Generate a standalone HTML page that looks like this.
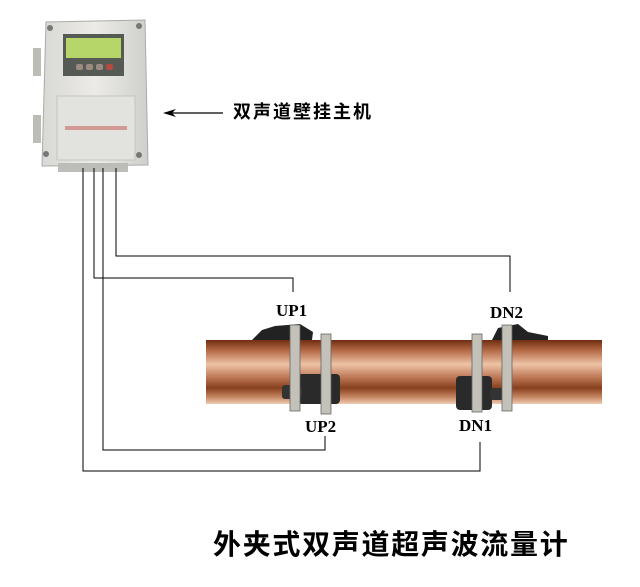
<!DOCTYPE html>
<html><head><meta charset="utf-8"><style>
html,body{margin:0;padding:0;background:#fff}
svg{display:block}
text{font-family:"Liberation Serif","Noto Serif CJK SC",serif}
.cj{font-family:"Liberation Sans","Noto Sans CJK SC",sans-serif;font-weight:bold}
</style></head><body>
<svg width="640" height="587" viewBox="0 0 640 587" xmlns="http://www.w3.org/2000/svg">
<defs>
<linearGradient id="pipe" x1="0" y1="0" x2="0" y2="1">
<stop offset="0" stop-color="#6e2e10"/>
<stop offset="0.15" stop-color="#b06440"/>
<stop offset="0.38" stop-color="#eec3a6"/>
<stop offset="0.6" stop-color="#b87250"/>
<stop offset="0.75" stop-color="#87401e"/>
<stop offset="0.9" stop-color="#c98a66"/>
<stop offset="1" stop-color="#f0cdb5"/>
</linearGradient>
<linearGradient id="box" x1="0" y1="0" x2="1" y2="0">
<stop offset="0" stop-color="#d8d8d4"/>
<stop offset="0.5" stop-color="#ecebe8"/>
<stop offset="1" stop-color="#cfcfcb"/>
</linearGradient>
</defs>
<rect x="33" y="48" width="8" height="28" fill="#bdbdb8"/>
<rect x="33" y="115" width="8" height="28" fill="#bdbdb8"/>
<path d="M46 22 L145 20 L148 165 L42 166 Z" fill="url(#box)" stroke="#aaa" stroke-width="1"/>
<rect x="63" y="34" width="61" height="42" fill="#555a55"/>
<rect x="66" y="38" width="55" height="20" fill="#b6d66a"/>
<rect x="76" y="64" width="7" height="6" rx="2" fill="#9a8a80"/>
<rect x="86" y="64" width="7" height="6" rx="2" fill="#9a8a80"/>
<rect x="96" y="64" width="7" height="6" rx="2" fill="#9a8a80"/>
<rect x="106" y="64" width="7" height="6" rx="2" fill="#b44a40"/>
<rect x="57" y="96" width="78" height="64" fill="#e2e2de" stroke="#c4c4c0"/>
<rect x="65" y="126" width="62" height="4" fill="#d49a96"/>
<circle cx="50" cy="28" r="3" fill="#777"/><circle cx="139" cy="26" r="3" fill="#777"/>
<circle cx="46" cy="154" r="3" fill="#777"/><circle cx="139" cy="155" r="3" fill="#777"/>
<rect x="58" y="163" width="70" height="9" fill="#bcbcb8"/>
<g fill="none" stroke="#000" stroke-width="1">
<polyline points="116,168 116,256 510,256 510,292"/>
<polyline points="94,168 94,278 293,278 293,292"/>
<polyline points="103,168 103,450 325,450 325,436"/>
<polyline points="83,168 83,471 480,471 480,442"/>
</g>
<line x1="166" y1="113" x2="223" y2="113" stroke="#000" stroke-width="1.3"/>
<path d="M163 113 L176 109 L172 113 L176 117 Z" fill="#000"/>
<text x="233" y="118" class="cj" font-size="18" letter-spacing="2">双声道壁挂主机</text>
<path d="M252 340 L262 330 L275 326 L300 324 L313 332 L312 340 Z" fill="#222"/>
<path d="M492 340 L498 328 L518 324 L528 332 L548 336 L548 340 Z" fill="#222"/>
<rect x="206" y="340" width="396" height="64" fill="url(#pipe)"/>
<rect x="298" y="374" width="42" height="30" rx="4" fill="#2a2a2a"/>
<rect x="282" y="385" width="20" height="14" rx="3" fill="#333"/>
<rect x="456" y="376" width="36" height="34" rx="4" fill="#2a2a2a"/>
<rect x="490" y="388" width="16" height="12" rx="3" fill="#333"/>
<g fill="#c4c1b9" stroke="#666" stroke-width="0.8">
<rect x="290" y="325" width="10" height="86"/>
<rect x="321" y="334" width="10" height="80"/>
<rect x="472" y="334" width="10" height="78"/>
<rect x="502" y="325" width="10" height="86"/>
</g>
<text x="276" y="316" font-size="17" font-weight="bold">UP1</text>
<text x="490" y="318" font-size="17" font-weight="bold">DN2</text>
<text x="305" y="432" font-size="17" font-weight="bold">UP2</text>
<text x="459" y="431" font-size="17" font-weight="bold">DN1</text>
<text x="213" y="554" class="cj" font-size="28" letter-spacing="1.7">外夹式双声道超声波流量计</text>
</svg>
</body></html>
